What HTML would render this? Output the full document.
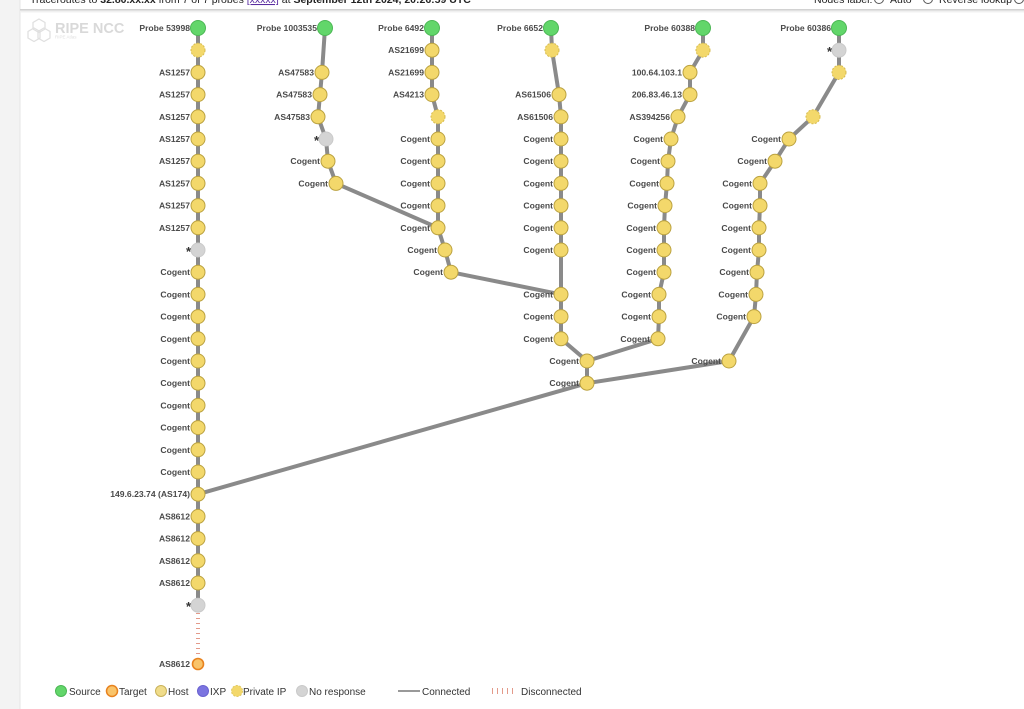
<!DOCTYPE html>
<html><head><meta charset="utf-8"><style>
html,body{margin:0;padding:0;background:#fff;}
body{width:1024px;height:709px;overflow:hidden;position:relative;font-family:"Liberation Sans",sans-serif;}
svg{position:absolute;left:0;top:0;}
.h{fill:#f3d86b;stroke:#bba240;stroke-width:1}
.p{fill:#f3d86b;stroke:#d6bb4e;stroke-width:1;stroke-dasharray:2 1.5}
.s{fill:#62d66a;stroke:#4cb755;stroke-width:1}
.g{fill:#d4d4d4;stroke:#cacaca;stroke-width:1}
.t{fill:#f9c46a;stroke:#e8821e;stroke-width:1.6}
.l{font-family:"Liberation Sans",sans-serif;font-size:8.6px;font-weight:bold;fill:#4a4a4a;text-anchor:end}
.st{font-family:"Liberation Sans",sans-serif;font-size:13px;font-weight:bold;fill:#333;text-anchor:end}
.e{fill:none;stroke:#8a8a8a;stroke-width:4;stroke-linejoin:round}
.lg{font-family:"Liberation Sans",sans-serif;font-size:10px;fill:#333}
.hd{font-family:"Liberation Sans",sans-serif;font-size:10.5px;fill:#222}
</style></head><body>
<svg width="1024" height="709" viewBox="0 0 1024 709" xmlns="http://www.w3.org/2000/svg">
<rect x="0" y="0" width="20" height="709" fill="#f3f3f3"/>
<line x1="20" y1="0" x2="20" y2="709" stroke="#e6e6e6" stroke-width="1"/>
<!-- header -->
<text class="hd" x="30" y="3">Traceroutes to <tspan font-weight="bold">32.80.xx.xx</tspan> from 7 of 7 probes <tspan fill="#5a2ca0" text-decoration="underline">[xxxxx]</tspan> at <tspan font-weight="bold">September 12th 2024, 20:26:59 UTC</tspan></text>
<text class="hd" x="814" y="3">Nodes label:</text>
<circle cx="879" cy="-1" r="4.5" fill="none" stroke="#555"/>
<text class="hd" x="890" y="3">Auto</text>
<circle cx="928" cy="-1" r="4.5" fill="none" stroke="#555"/>
<text class="hd" x="939" y="3">Reverse lookup</text>
<circle cx="1019" cy="-1" r="4.5" fill="none" stroke="#555"/>
<rect x="20" y="9" width="1004" height="1.5" fill="#d2d2d2"/>
<rect x="20" y="10.5" width="1004" height="2" fill="#f0f0f0"/>
<!-- logo -->
<g fill="none" stroke="#e0e0e0" stroke-width="1.3">
<polygon points="39,19 45,22.5 45,29 39,32.5 33,29 33,22.5"/>
<polygon points="34,28 40,31.5 40,38 34,41.5 28,38 28,31.5"/>
<polygon points="44,28 50,31.5 50,38 44,41.5 38,38 38,31.5"/>
</g>
<text x="55" y="33" font-size="14.5" font-weight="bold" fill="#d9d9d9" font-family="Liberation Sans, sans-serif">RIPE NCC</text>
<text x="55" y="38.5" font-size="4.5" fill="#e0e0e0" font-family="Liberation Sans, sans-serif">RIPE Atlas</text>

<!-- edges -->
<polyline class="e" points="198,28 198,605.2"/>
<line x1="198" y1="613" x2="198" y2="657" stroke="#e39a8a" stroke-width="4" stroke-dasharray="1 4"/>
<polyline class="e" points="325,28 322,72.4 320,94.6 318,116.8 326,139 328,161.2 336,183.4 438,227.8"/>
<polyline class="e" points="432,28 432,94.6 438,116.8 438,227.8 445,250 451,272.2 561,294.4"/>
<polyline class="e" points="551,28 552,50.2 559,94.6 561,116.8 561,338.8 587,361 587,383.2 198,494.2"/>
<polyline class="e" points="703,28 703,50.2 690,72.4 690,94.6 678,116.8 671,139 668,161.2 667,183.4 665,205.6 664,227.8 664,272.2 659,294.4 659,316.6 658,338.8 587,361"/>
<polyline class="e" points="839,28 839,72.4 813,116.8 789,139 775,161.2 760,183.4 760,205.6 759,227.8 759,250 757,272.2 756,294.4 754,316.6 729,361 587,383.2"/>

<!-- column 1 -->
<circle class="s" cx="198" cy="28" r="7.5"/><text class="l" x="190" y="31">Probe 53998</text>
<circle class="p" cx="198" cy="50.2" r="7"/>
<circle class="h" cx="198" cy="72.4" r="7"/><text class="l" x="190" y="75.4">AS1257</text>
<circle class="h" cx="198" cy="94.6" r="7"/><text class="l" x="190" y="97.6">AS1257</text>
<circle class="h" cx="198" cy="116.8" r="7"/><text class="l" x="190" y="119.8">AS1257</text>
<circle class="h" cx="198" cy="139" r="7"/><text class="l" x="190" y="142">AS1257</text>
<circle class="h" cx="198" cy="161.2" r="7"/><text class="l" x="190" y="164.2">AS1257</text>
<circle class="h" cx="198" cy="183.4" r="7"/><text class="l" x="190" y="186.4">AS1257</text>
<circle class="h" cx="198" cy="205.6" r="7"/><text class="l" x="190" y="208.6">AS1257</text>
<circle class="h" cx="198" cy="227.8" r="7"/><text class="l" x="190" y="230.8">AS1257</text>
<circle class="g" cx="198" cy="250" r="7"/><text class="st" x="191" y="256">*</text>
<circle class="h" cx="198" cy="272.2" r="7"/><text class="l" x="190" y="275.2">Cogent</text>
<circle class="h" cx="198" cy="294.4" r="7"/><text class="l" x="190" y="297.4">Cogent</text>
<circle class="h" cx="198" cy="316.6" r="7"/><text class="l" x="190" y="319.6">Cogent</text>
<circle class="h" cx="198" cy="338.8" r="7"/><text class="l" x="190" y="341.8">Cogent</text>
<circle class="h" cx="198" cy="361" r="7"/><text class="l" x="190" y="364">Cogent</text>
<circle class="h" cx="198" cy="383.2" r="7"/><text class="l" x="190" y="386.2">Cogent</text>
<circle class="h" cx="198" cy="405.4" r="7"/><text class="l" x="190" y="408.4">Cogent</text>
<circle class="h" cx="198" cy="427.6" r="7"/><text class="l" x="190" y="430.6">Cogent</text>
<circle class="h" cx="198" cy="449.8" r="7"/><text class="l" x="190" y="452.8">Cogent</text>
<circle class="h" cx="198" cy="472" r="7"/><text class="l" x="190" y="475">Cogent</text>
<circle class="h" cx="198" cy="494.2" r="7"/><text class="l" x="190" y="497.2">149.6.23.74 (AS174)</text>
<circle class="h" cx="198" cy="516.4" r="7"/><text class="l" x="190" y="519.4">AS8612</text>
<circle class="h" cx="198" cy="538.6" r="7"/><text class="l" x="190" y="541.6">AS8612</text>
<circle class="h" cx="198" cy="560.8" r="7"/><text class="l" x="190" y="563.8">AS8612</text>
<circle class="h" cx="198" cy="583" r="7"/><text class="l" x="190" y="586">AS8612</text>
<circle class="g" cx="198" cy="605.2" r="7"/><text class="st" x="191" y="611.2">*</text>
<circle class="t" cx="198" cy="664" r="5.5"/><text class="l" x="190" y="667">AS8612</text>

<!-- column 2 -->
<circle class="s" cx="325" cy="28" r="7.5"/><text class="l" x="317" y="31">Probe 1003535</text>
<circle class="h" cx="322" cy="72.4" r="7"/><text class="l" x="314" y="75.4">AS47583</text>
<circle class="h" cx="320" cy="94.6" r="7"/><text class="l" x="312" y="97.6">AS47583</text>
<circle class="h" cx="318" cy="116.8" r="7"/><text class="l" x="310" y="119.8">AS47583</text>
<circle class="g" cx="326" cy="139" r="7"/><text class="st" x="319" y="145">*</text>
<circle class="h" cx="328" cy="161.2" r="7"/><text class="l" x="320" y="164.2">Cogent</text>
<circle class="h" cx="336" cy="183.4" r="7"/><text class="l" x="328" y="186.4">Cogent</text>

<!-- column 3 -->
<circle class="s" cx="432" cy="28" r="7.5"/><text class="l" x="424" y="31">Probe 6492</text>
<circle class="h" cx="432" cy="50.2" r="7"/><text class="l" x="424" y="53.2">AS21699</text>
<circle class="h" cx="432" cy="72.4" r="7"/><text class="l" x="424" y="75.4">AS21699</text>
<circle class="h" cx="432" cy="94.6" r="7"/><text class="l" x="424" y="97.6">AS4213</text>
<circle class="p" cx="438" cy="116.8" r="7"/>
<circle class="h" cx="438" cy="139" r="7"/><text class="l" x="430" y="142">Cogent</text>
<circle class="h" cx="438" cy="161.2" r="7"/><text class="l" x="430" y="164.2">Cogent</text>
<circle class="h" cx="438" cy="183.4" r="7"/><text class="l" x="430" y="186.4">Cogent</text>
<circle class="h" cx="438" cy="205.6" r="7"/><text class="l" x="430" y="208.6">Cogent</text>
<circle class="h" cx="438" cy="227.8" r="7"/><text class="l" x="430" y="230.8">Cogent</text>
<circle class="h" cx="445" cy="250" r="7"/><text class="l" x="437" y="253">Cogent</text>
<circle class="h" cx="451" cy="272.2" r="7"/><text class="l" x="443" y="275.2">Cogent</text>

<!-- column 4 -->
<circle class="s" cx="551" cy="28" r="7.5"/><text class="l" x="543" y="31">Probe 6652</text>
<circle class="p" cx="552" cy="50.2" r="7"/>
<circle class="h" cx="559" cy="94.6" r="7"/><text class="l" x="551" y="97.6">AS61506</text>
<circle class="h" cx="561" cy="116.8" r="7"/><text class="l" x="553" y="119.8">AS61506</text>
<circle class="h" cx="561" cy="139" r="7"/><text class="l" x="553" y="142">Cogent</text>
<circle class="h" cx="561" cy="161.2" r="7"/><text class="l" x="553" y="164.2">Cogent</text>
<circle class="h" cx="561" cy="183.4" r="7"/><text class="l" x="553" y="186.4">Cogent</text>
<circle class="h" cx="561" cy="205.6" r="7"/><text class="l" x="553" y="208.6">Cogent</text>
<circle class="h" cx="561" cy="227.8" r="7"/><text class="l" x="553" y="230.8">Cogent</text>
<circle class="h" cx="561" cy="250" r="7"/><text class="l" x="553" y="253">Cogent</text>
<circle class="h" cx="561" cy="294.4" r="7"/><text class="l" x="553" y="297.4">Cogent</text>
<circle class="h" cx="561" cy="316.6" r="7"/><text class="l" x="553" y="319.6">Cogent</text>
<circle class="h" cx="561" cy="338.8" r="7"/><text class="l" x="553" y="341.8">Cogent</text>
<circle class="h" cx="587" cy="361" r="7"/><text class="l" x="579" y="364">Cogent</text>
<circle class="h" cx="587" cy="383.2" r="7"/><text class="l" x="579" y="386.2">Cogent</text>

<!-- column 5 -->
<circle class="s" cx="703" cy="28" r="7.5"/><text class="l" x="695" y="31">Probe 60388</text>
<circle class="p" cx="703" cy="50.2" r="7"/>
<circle class="h" cx="690" cy="72.4" r="7"/><text class="l" x="682" y="75.4">100.64.103.1</text>
<circle class="h" cx="690" cy="94.6" r="7"/><text class="l" x="682" y="97.6">206.83.46.13</text>
<circle class="h" cx="678" cy="116.8" r="7"/><text class="l" x="670" y="119.8">AS394256</text>
<circle class="h" cx="671" cy="139" r="7"/><text class="l" x="663" y="142">Cogent</text>
<circle class="h" cx="668" cy="161.2" r="7"/><text class="l" x="660" y="164.2">Cogent</text>
<circle class="h" cx="667" cy="183.4" r="7"/><text class="l" x="659" y="186.4">Cogent</text>
<circle class="h" cx="665" cy="205.6" r="7"/><text class="l" x="657" y="208.6">Cogent</text>
<circle class="h" cx="664" cy="227.8" r="7"/><text class="l" x="656" y="230.8">Cogent</text>
<circle class="h" cx="664" cy="250" r="7"/><text class="l" x="656" y="253">Cogent</text>
<circle class="h" cx="664" cy="272.2" r="7"/><text class="l" x="656" y="275.2">Cogent</text>
<circle class="h" cx="659" cy="294.4" r="7"/><text class="l" x="651" y="297.4">Cogent</text>
<circle class="h" cx="659" cy="316.6" r="7"/><text class="l" x="651" y="319.6">Cogent</text>
<circle class="h" cx="658" cy="338.8" r="7"/><text class="l" x="650" y="341.8">Cogent</text>

<!-- column 6 -->
<circle class="s" cx="839" cy="28" r="7.5"/><text class="l" x="831" y="31">Probe 60386</text>
<circle class="g" cx="839" cy="50.2" r="7"/><text class="st" x="832" y="56.2">*</text>
<circle class="p" cx="839" cy="72.4" r="7"/>
<circle class="p" cx="813" cy="116.8" r="7"/>
<circle class="h" cx="789" cy="139" r="7"/><text class="l" x="781" y="142">Cogent</text>
<circle class="h" cx="775" cy="161.2" r="7"/><text class="l" x="767" y="164.2">Cogent</text>
<circle class="h" cx="760" cy="183.4" r="7"/><text class="l" x="752" y="186.4">Cogent</text>
<circle class="h" cx="760" cy="205.6" r="7"/><text class="l" x="752" y="208.6">Cogent</text>
<circle class="h" cx="759" cy="227.8" r="7"/><text class="l" x="751" y="230.8">Cogent</text>
<circle class="h" cx="759" cy="250" r="7"/><text class="l" x="751" y="253">Cogent</text>
<circle class="h" cx="757" cy="272.2" r="7"/><text class="l" x="749" y="275.2">Cogent</text>
<circle class="h" cx="756" cy="294.4" r="7"/><text class="l" x="748" y="297.4">Cogent</text>
<circle class="h" cx="754" cy="316.6" r="7"/><text class="l" x="746" y="319.6">Cogent</text>
<circle class="h" cx="729" cy="361" r="7"/><text class="l" x="721" y="364">Cogent</text>

<!-- legend -->
<circle cx="61" cy="691" r="5.5" fill="#62d66a" stroke="#4cb755"/>
<text class="lg" x="69" y="695">Source</text>
<circle cx="112" cy="691" r="5.5" fill="#f9c46a" stroke="#e8821e" stroke-width="1.5"/>
<text class="lg" x="119" y="695">Target</text>
<circle cx="161" cy="691" r="5.5" fill="#f0dc8a" stroke="#c9b25a"/>
<text class="lg" x="168" y="695">Host</text>
<circle cx="203" cy="691" r="5.5" fill="#7b74e0" stroke="#6a62d0"/>
<text class="lg" x="210" y="695">IXP</text>
<circle cx="237" cy="691" r="5.5" fill="#f3d86b" stroke="#e0c860" stroke-dasharray="2 1.5"/>
<text class="lg" x="243" y="695">Private IP</text>
<circle cx="302" cy="691" r="5.5" fill="#d4d4d4" stroke="#cacaca"/>
<text class="lg" x="309" y="695">No response</text>
<line x1="398" y1="691" x2="420" y2="691" stroke="#999" stroke-width="2"/>
<text class="lg" x="422" y="695">Connected</text>
<line x1="492" y1="691" x2="517" y2="691" stroke="#e39a8a" stroke-width="6" stroke-dasharray="1 4"/>
<text class="lg" x="521" y="695">Disconnected</text>
</svg>
</body></html>
